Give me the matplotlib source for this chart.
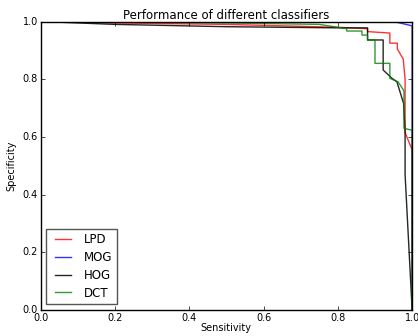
import matplotlib
matplotlib.use('Agg')
import matplotlib.pyplot as plt

# sensitivity / specificity curves
lpd_x = [0.0, 0.2, 0.5, 0.8, 0.88, 0.88, 0.94, 0.94, 0.96, 0.96, 0.976, 0.981, 0.981, 1.0, 1.0]
lpd_y = [1.0, 0.995, 0.99, 0.98, 0.975, 0.965, 0.96, 0.925, 0.925, 0.905, 0.87, 0.80, 0.615, 0.555, 0.0]

mog_x = [0.0, 0.5, 0.88, 0.96, 1.0, 1.0]
mog_y = [1.0, 1.0, 0.999, 0.997, 0.985, 0.0]

hog_x = [0.0, 0.2, 0.5, 0.8, 0.88, 0.88, 0.922, 0.922, 0.945, 0.959, 0.977, 0.981, 0.981, 1.0]
hog_y = [1.0, 0.99, 0.982, 0.978, 0.978, 0.936, 0.936, 0.832, 0.804, 0.791, 0.716, 0.62, 0.47, 0.0]

dct_x = [0.0, 0.5, 0.75, 0.824, 0.824, 0.865, 0.865, 0.88, 0.88, 0.9, 0.9, 0.94, 0.94, 0.962, 0.978, 0.978, 0.997, 1.0, 1.0]
dct_y = [1.0, 0.995, 0.99, 0.975, 0.967, 0.967, 0.953, 0.953, 0.936, 0.936, 0.855, 0.855, 0.803, 0.791, 0.76, 0.63, 0.624, 0.62, 0.0]

labels = ['LPD', 'MOG', 'HOG', 'DCT']

plt.style.use('classic')
fig = plt.figure(figsize=(4.18, 3.36), dpi=100)
ax = fig.add_axes([0.097, 0.077, 0.889, 0.859])

ax.plot(lpd_x, lpd_y, color='red', alpha=0.8, lw=1, label=labels[0])
ax.plot(mog_x, mog_y, color='blue', alpha=0.8, lw=1, label=labels[1])
ax.plot(hog_x, hog_y, color='black', alpha=0.85, lw=1, label=labels[2])
ax.plot(dct_x, dct_y, color='green', alpha=0.8, lw=1, label=labels[3])

ax.set_xlim(0, 1)
ax.set_ylim(0, 1)
ax.set_xticks([0.0, 0.2, 0.4, 0.6, 0.8, 1.0])
ax.set_yticks([0.0, 0.2, 0.4, 0.6, 0.8, 1.0])
ax.tick_params(labelsize=7, length=3, pad=2)
ax.set_xlabel('Sensitivity', fontsize=7, labelpad=0)
ax.set_ylabel('Specificity', fontsize=7, labelpad=4)
ax.set_title('Performance of different classifiers', fontsize=8.5, pad=2)

leg = ax.legend(loc='lower left', fontsize=8.5, handlelength=2.0, labelspacing=0.4,
                borderaxespad=0.5)
leg.get_frame().set_edgecolor('#555555')

fig.savefig('out.png', dpi=100)
